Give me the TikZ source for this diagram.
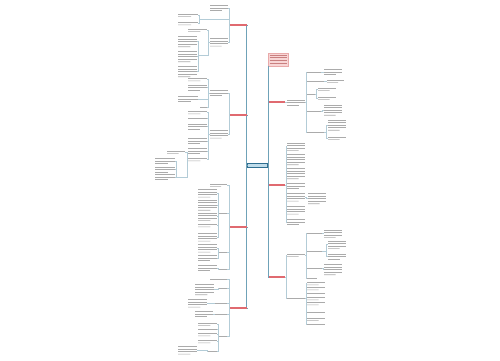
\documentclass[tikz,border=0pt]{standalone}
\usetikzlibrary{calc}
\definecolor{txtc}{HTML}{ABABAB}
\definecolor{subc}{HTML}{B3CCD7}
\definecolor{mainc}{HTML}{6FA2B8}
\definecolor{redc}{HTML}{E06A70}
\definecolor{cnfill}{HTML}{BFDCEA}
\definecolor{cndraw}{HTML}{2F6E90}
\definecolor{pinkf}{HTML}{F8D6D6}
\definecolor{pinkd}{HTML}{E9AAAA}
\definecolor{pinkt}{HTML}{C98080}
\tikzset{
  txtline/.style={draw=txtc, line width=0.6pt},
  tb/.style={inner sep=0pt, outer sep=0pt, minimum height={#1*2.6pt},
    path picture={
      \foreach \k in {1,...,#1}{
        \pgfmathsetmacro\yy{-(\k-0.5)*2.6}
        \def\ff{1}
        \ifnum\k=#1 \ifnum#1>1 \def\ff{0.65}\fi\fi
        \draw[txtline] ([yshift=\yy pt]path picture bounding box.north west) --
          ($([yshift=\yy pt]path picture bounding box.north west)!\ff!([yshift=\yy pt]path picture bounding box.north east)$);
      }}},
  mainn/.style={inner sep=0pt, outer sep=0pt, minimum width=17pt, minimum height=3pt},
  redline/.style={draw=redc, line width=1.6pt},
  cnode/.style={inner sep=0pt, outer sep=0pt, minimum width=20pt, minimum height=4pt,
    fill=cnfill, draw=cndraw, line width=0.7pt},
  pinkbox/.style={inner sep=0pt, outer sep=0pt, minimum width=20pt, minimum height=13pt,
    fill=pinkf, draw=pinkd, line width=0.4pt,
    path picture={
      \foreach \k in {1,...,4}{
        \pgfmathsetmacro\yy{-1.9-(\k-1)*2.8}
        \draw[pinkt, line width=0.6pt] ([xshift=1.5pt,yshift=\yy pt]path picture bounding box.north west) --
          ([xshift=-1.5pt,yshift=\yy pt]path picture bounding box.north east);
      }}},
  ulnode/.style={inner sep=0pt, outer sep=0pt, minimum height=0.6pt},
  sub/.style={draw=subc, line width=0.5pt},
  mainl/.style={draw=mainc, line width=0.7pt},
}
\newcommand\tbk[5]{\node[tb=#5, minimum width=#4pt, anchor=north west] (#1) at (#2,#3) {};}
\newcommand\uln[4]{\node[ulnode, minimum width=#4pt, anchor=west] (#1) at (#2,#3) {};\draw[sub] (#1.west) -- (#1.east);}
\newcommand\lc[3]{\draw[sub] (#1.west) -- ++(-#3,0) |- (#2.east);}
\newcommand\rc[3]{\draw[sub] (#1.east) -- ++(#3,0) |- (#2.west);}
\begin{document}
\begin{tikzpicture}[x=1pt,y=-1pt]
\fill[white] (0,0) rectangle (500,360);
\useasboundingbox (0,0) rectangle (500,360);

% centre and main branches
\node[cnode] (CN) at (257.5,165) {};
\node[mainn] (L1) at (238.5,25) {};
\node[mainn] (L2) at (238.5,115) {};
\node[mainn] (L3) at (238.5,227) {};
\node[mainn] (L4) at (238.5,308) {};
\node[pinkbox, anchor=north west] (R0) at (268,53) {};
\node[mainn, minimum width=16pt] (R1) at (277,102) {};
\node[mainn, minimum width=16pt] (R2) at (277,185) {};
\node[mainn, minimum width=16pt] (R3) at (277,277) {};
\foreach \m in {L1,L2,L3,L4}{\draw[mainl] (CN.west) -- ++(-1,0) |- (\m.east);}
\foreach \m in {R1,R2,R3}{\draw[mainl] (CN.east) -- ++(1,0) |- (\m.west);}
\draw[mainl] (CN.east) -- ++(1,0) |- (R0.south west);
\foreach \m in {L1,L2,L3,L4,R1,R2,R3}{\draw[redline] (\m.west) -- (\m.east);}

% ---------- L1 ----------
\tbk{A}{210}{4}{18}{3}
\uln{B}{200}{19}{28}
\tbk{B1}{178}{12.5}{20}{2}
\tbk{B2}{178}{21}{20}{2}
\tbk{C}{210}{37}{18}{4}
\tbk{C1}{188}{27.5}{19}{2}
\uln{C2}{199}{55}{8}
\tbk{C2a}{178}{35}{19}{5}
\tbk{C2b}{178}{50}{19}{5}
\tbk{C2c}{178}{65}{19}{5}
\lc{L1}{A}{1}\lc{L1}{B}{1}\lc{L1}{C}{1}
\lc{B}{B1}{1}\lc{B}{B2}{1}
\lc{C}{C1}{2}\lc{C}{C2}{2}
\lc{C2}{C2a}{1}\lc{C2}{C2b}{1}\lc{C2}{C2c}{1}

% ---------- L2 ----------
\tbk{D}{210}{89}{18}{3}
\tbk{D1}{188}{77}{19}{2}
\tbk{D2}{188}{83.5}{19}{3}
\tbk{D3}{178}{95}{20}{3}
\tbk{D4}{200}{105.5}{7}{1}
\tbk{E}{210}{129}{18}{4}
\tbk{E1}{188}{110}{19}{2}
\tbk{E2}{188}{117}{19}{1}
\tbk{E3}{188}{122.5}{19}{3}
\tbk{E4}{188}{137}{19}{3}
\tbk{E5}{188}{147}{19}{3}
\tbk{F}{188}{157}{19}{2}
\tbk{F1}{167}{149.5}{18}{2}
\uln{Fx}{177}{177}{9}
\tbk{F2}{155}{157}{20}{3}
\tbk{F3}{155}{165.5}{20}{3}
\tbk{F4}{155}{173}{20}{3}
\lc{L2}{D}{1}\lc{L2}{E}{1}
\lc{D}{D1}{2}\lc{D}{D2}{2}\lc{D}{D3}{2}\lc{D}{D4}{2}
\lc{E}{E1}{2}\lc{E}{E2}{2}\lc{E}{E3}{2}\lc{E}{E4}{2}\lc{E}{E5}{2}\lc{E}{F}{2}
\lc{F}{F1}{1}\lc{F}{Fx}{1}
\lc{Fx}{F2}{1}\lc{Fx}{F3}{1}\lc{Fx}{F4}{1}

% ---------- L3 ----------
\tbk{G}{210}{182.5}{17}{2}
\tbk{H}{219}{211.7}{8}{1}
\tbk{H1}{198}{188}{19}{4}
\tbk{H2}{198}{198.5}{19}{5}
\tbk{H3}{198}{211.5}{19}{4}
\tbk{H4}{198}{223}{19}{2}
\tbk{H5}{198}{232}{19}{4}
\tbk{I}{219}{250.7}{8}{1}
\tbk{I1}{198}{243}{19}{4}
\tbk{I2}{198}{254}{19}{3}
\tbk{J}{219}{267.7}{8}{1}
\tbk{J1}{198}{264}{19}{3}
\lc{L3}{G}{1}\lc{L3}{H}{1}\lc{L3}{I}{1}\lc{L3}{J}{1}
\lc{H}{H1}{1}\lc{H}{H2}{1}\lc{H}{H3}{1}\lc{H}{H4}{1}\lc{H}{H5}{1}
\lc{I}{I1}{1}\lc{I}{I2}{1}
\lc{J}{J1}{1}

% ---------- L4 ----------
\tbk{K}{210}{277.5}{17}{1}
\tbk{M}{219}{286.7}{8}{1}
\tbk{M1}{195}{283}{19}{5}
\tbk{N}{215}{301.7}{12}{1}
\tbk{N1}{188}{298}{19}{4}
\tbk{O}{215}{312.7}{12}{1}
\tbk{O1}{195}{310}{18}{3}
\tbk{P}{219}{334.7}{8}{1}
\tbk{P1}{198}{321.5}{19}{2}
\tbk{P2}{198}{327.5}{19}{1}
\tbk{P3}{198}{332}{19}{2}
\tbk{P4}{198}{339}{19}{2}
\tbk{Q}{208}{349.7}{9}{1}
\tbk{Q1}{178}{345}{19}{4}
\lc{L4}{K}{1}\lc{L4}{M}{1}\lc{L4}{N}{1}\lc{L4}{O}{1}\lc{L4}{P}{1}
\lc{M}{M1}{1}\lc{N}{N1}{1}\lc{O}{O1}{1}
\lc{P}{P1}{1}\lc{P}{P2}{1}\lc{P}{P3}{1}\lc{P}{P4}{1}\lc{P}{Q}{1}
\lc{Q}{Q1}{1}

% ---------- R1 ----------
\tbk{R1a}{287}{98.5}{18}{3}
\tbk{S1}{307}{70.7}{14}{1}
\tbk{S1a}{324}{68}{18}{3}
\tbk{S2}{307}{79.7}{17}{1}
\tbk{S2a}{327}{78.5}{17}{2}
\tbk{S3}{307}{92.7}{8}{1}
\tbk{S3a}{318}{86.5}{18}{2}
\tbk{S3b}{318}{95.5}{18}{2}
\tbk{S4}{307}{109.7}{14}{1}
\tbk{S4a}{324}{103.5}{18}{5}
\tbk{S5}{307}{130.7}{17}{1}
\tbk{S5a}{328}{118.5}{18}{5}
\tbk{S5b}{328}{135.5}{18}{2}
\rc{R1}{R1a}{1}
\rc{R1a}{S1}{1}\rc{R1a}{S2}{1}\rc{R1a}{S3}{1}\rc{R1a}{S4}{1}\rc{R1a}{S5}{1}
\rc{S1}{S1a}{1}\rc{S2}{S2a}{1}\rc{S3}{S3a}{1}\rc{S3}{S3b}{1}
\rc{S4}{S4a}{1}\rc{S5}{S5a}{2}\rc{S5}{S5b}{2}

% ---------- R2 ----------
\tbk{V1}{287}{141.5}{18}{4}
\tbk{V2}{287}{153}{18}{5}
\tbk{V3}{287}{167}{18}{5}
\tbk{V4}{287}{182}{18}{3}
\tbk{V5}{287}{192}{18}{4}
\tbk{V5a}{308}{192}{18}{5}
\tbk{V6}{287}{205}{18}{4}
\tbk{V7}{287}{218}{18}{3}
\foreach \v in {V1,V2,V3,V4,V5,V6,V7}{\rc{R2}{\v}{1}}
\rc{V5}{V5a}{1}

% ---------- R3 ----------
\tbk{T1}{287}{252.5}{18}{2}
\tbk{U1}{307}{231.7}{15}{1}
\tbk{U1a}{324}{228.5}{18}{4}
\tbk{U2}{307}{249.7}{15}{1}
\tbk{U2a}{328}{239.5}{18}{4}
\tbk{U2b}{328}{252.5}{18}{3}
\tbk{U3}{307}{266.7}{15}{1}
\tbk{U3a}{324}{263}{18}{5}
\tbk{U4}{307}{276.7}{10}{1}
\tbk{T2}{287}{296.7}{18}{1}
\tbk{W1}{307}{281}{18}{2}
\tbk{W2}{307}{286}{18}{2}
\tbk{W3}{307}{292}{18}{1}
\tbk{W4}{307}{296}{18}{2}
\tbk{W5}{307}{301}{18}{2}
\tbk{W6}{307}{311}{18}{1}
\tbk{W7}{307}{316.5}{18}{2}
\tbk{W8}{307}{322.5}{18}{1}
\rc{R3}{T1}{1}\rc{R3}{T2}{1}
\rc{T1}{U1}{1}\rc{T1}{U2}{1}\rc{T1}{U3}{1}\rc{T1}{U4}{1}
\rc{U1}{U1a}{1}\rc{U2}{U2a}{4}\rc{U2}{U2b}{4}\rc{U3}{U3a}{1}
\foreach \w in {W1,W2,W3,W4,W5,W6,W7,W8}{\rc{T2}{\w}{1}}
\end{tikzpicture}
\end{document}
